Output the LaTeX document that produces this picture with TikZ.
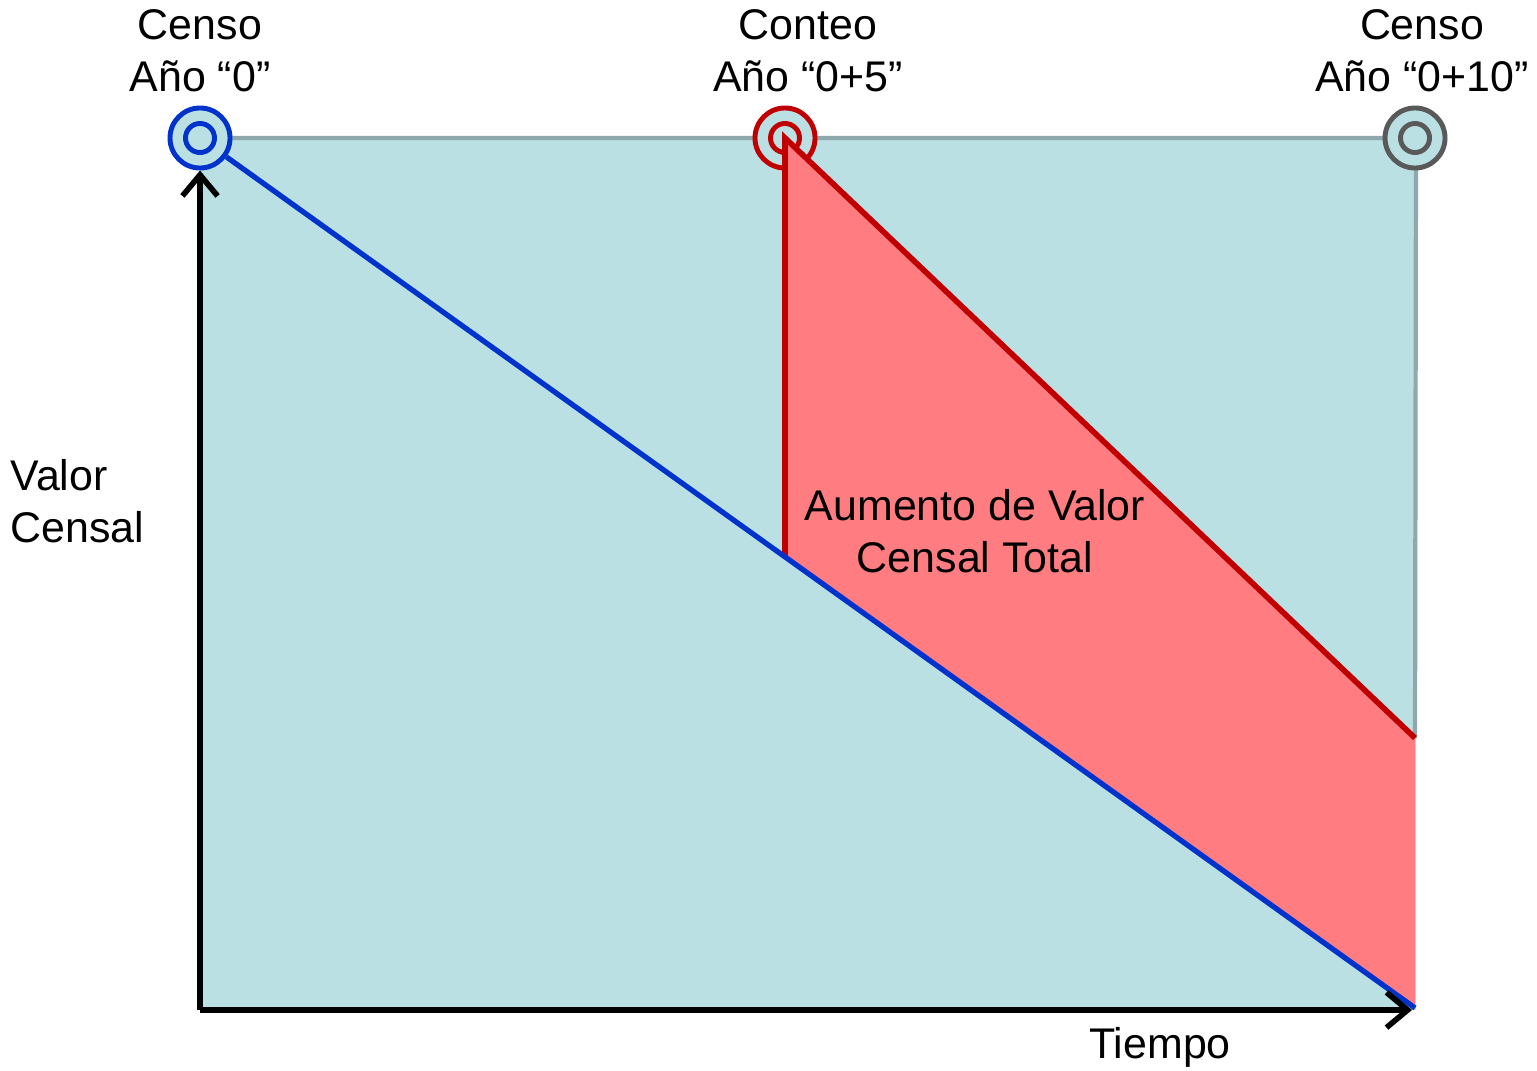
\documentclass[tikz,border=0pt]{standalone}
\usepackage{fontspec}
\setmainfont{Liberation Sans}
\usetikzlibrary{arrows.meta}
\definecolor{fondo}{HTML}{BBE0E3}
\definecolor{borde}{HTML}{8FA8AB}
\definecolor{azul}{HTML}{0033CC}
\definecolor{rojo}{HTML}{C00000}
\definecolor{salmon}{HTML}{FF7C80}
\definecolor{gris}{HTML}{595959}
\tikzset{
  anillo/.style={circle, draw=#1, line width=1.4pt, fill=fondo, minimum size=0.6cm, inner sep=0pt,
    append after command={node[circle, draw=#1, line width=1.4pt, minimum size=0.29cm, inner sep=0pt] at (\tikzlastnode) {}}},
  eje/.style={black, line width=1.6pt, -{Straight Barb[length=6pt, width=10pt, line width=1.6pt]}},
  rotulo/.style={align=center, inner sep=0pt, font=\fontsize{12.2}{14.8}\selectfont}
}
\begin{document}
\begin{tikzpicture}[x=0.01cm, y=-0.01cm]
\useasboundingbox (0,0) rectangle (1537,1070);
\coordinate (o) at (200,1010);
\coordinate (fin) at (1415,1008);
\coordinate (esq) at (1415,738);
\coordinate (corte) at (785,557);
\fill [fondo] (200,138) rectangle (1416,1010);
\draw [borde, line width=1.2pt] (200,138) -- (1416,138) -- (esq);
\node [anillo=azul] (c0) at (200,138) {};
\node [anillo=rojo] (c5) at (785,138) {};
\node [anillo=gris] (c10) at (1415,138) {};
% aumento
\fill [salmon] (c5.center) -- (corte) -- (fin) -- (esq) -- cycle;
\draw [rojo, line width=1.6pt] (corte) -- (c5.center) -- (esq);
\draw [azul, line width=1.5pt] (c0) -- (fin);
\draw [eje] (o) -- (c0);
\draw [eje] (o) -- (1412,1010);
\node [rotulo] (t0) at (200,51) {Censo\\Año “0”};
\node [rotulo] (t5) at (808,51) {Conteo\\Año “0+5”};
\node [rotulo] (t10) at (1422,51) {Censo\\Año “0+10”};
\node [rotulo, align=left, anchor=west] (vc) at (10,501) {Valor\\Censal};
\node [rotulo] (av) at (975,531) {Aumento de Valor\\Censal Total};
\node [rotulo] (ti) at (1160,1047) {Tiempo};
\end{tikzpicture}
\end{document}
